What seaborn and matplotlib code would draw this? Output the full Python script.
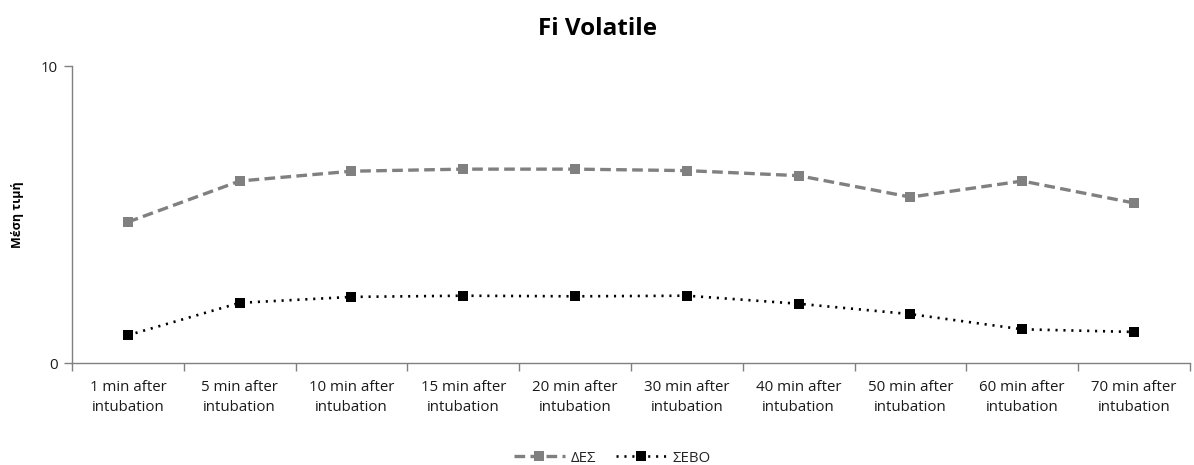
import matplotlib
matplotlib.use("Agg")
import matplotlib.pyplot as plt
import seaborn as sns
import pandas as pd
import numpy as np

categories = ["1 min after\nintubation", "5 min after\nintubation", "10 min after\nintubation",
              "15 min after\nintubation", "20 min after\nintubation", "30 min after\nintubation",
              "40 min after\nintubation", "50 min after\nintubation", "60 min after\nintubation",
              "70 min after\nintubation"]
des_values = [4.75, 6.13, 6.46, 6.53, 6.53, 6.48, 6.31, 5.59, 6.13, 5.39]
sevo_values = [0.94, 2.03, 2.23, 2.27, 2.25, 2.27, 2.0, 1.65, 1.14, 1.05]
series_names = ["ΔΕΣ", "ΣΕΒΟ"]

sns.set_theme(style="white")
plt.rcParams["font.family"] = ["Open Sans", "DejaVu Sans"]

df = pd.DataFrame({
    "pos": list(range(len(categories))) * 2,
    "value": des_values + sevo_values,
    "group": [series_names[0]] * len(categories) + [series_names[1]] * len(categories),
})

fig = plt.figure(figsize=(11.94, 4.65), dpi=100)
ax = fig.add_axes([0.0603, 0.219, 0.9363, 0.639])

sns.lineplot(data=df, x="pos", y="value", hue="group", style="group",
             palette={series_names[0]: "#808080", series_names[1]: "#000000"},
             dashes={series_names[0]: (3.2, 1.6), series_names[1]: (0.8, 2.2)},
             markers={series_names[0]: "s", series_names[1]: "s"},
             ax=ax, legend=False)

for line, lw in zip(ax.lines, [2.4, 1.9]):
    line.set_linewidth(lw)
    line.set_markersize(6.5)
    line.set_markeredgewidth(0)

ax.set_xlim(-0.5, len(categories) - 0.5)
ax.set_ylim(0, 10)
ax.set_yticks([0, 10])
ax.set_yticklabels(["0", "10"], fontsize=10.8, color="#1a1a1a")

# category boundaries carry the tick marks, labels sit between them
ax.set_xticks(np.arange(-0.5, len(categories), 1.0))
ax.set_xticklabels([])
ax.set_xticks(np.arange(len(categories)), minor=True)
ax.set_xticklabels(categories, minor=True, fontsize=10.8, color="#1a1a1a", linespacing=1.45)
ax.tick_params(axis="x", which="major", length=6, width=1, color="#808080", direction="out", bottom=True)
ax.tick_params(axis="x", which="minor", length=0, pad=12)
ax.tick_params(axis="y", length=6, width=1, color="#808080", direction="out", left=True, pad=4)

for side in ["top", "right"]:
    ax.spines[side].set_visible(False)
for side in ["left", "bottom"]:
    ax.spines[side].set_color("#808080")
    ax.spines[side].set_linewidth(1)

ax.set_xlabel("")
ax.set_ylabel("Μέση τιμή", fontsize=9, fontweight="bold", color="#000000", labelpad=12)
fig.text(0.5, 0.937, "Fi Volatile", ha="center", va="center", fontsize=17.5, fontweight="bold", color="#000000")

handles = [
    plt.Line2D([], [], color="#808080", lw=2.4, dashes=(3.2, 1.6), marker="s", markersize=6.5, markeredgewidth=0),
    plt.Line2D([], [], color="#000000", lw=1.9, dashes=(0.8, 2.2), marker="s", markersize=6.5, markeredgewidth=0),
]
fig.legend(handles, series_names, loc="center", bbox_to_anchor=(0.513, 0.015), ncol=2, frameon=False,
           fontsize=10.8, handlelength=3.4, columnspacing=1.3, handletextpad=0.4)

fig.savefig("out.png", dpi=100, facecolor="white")
